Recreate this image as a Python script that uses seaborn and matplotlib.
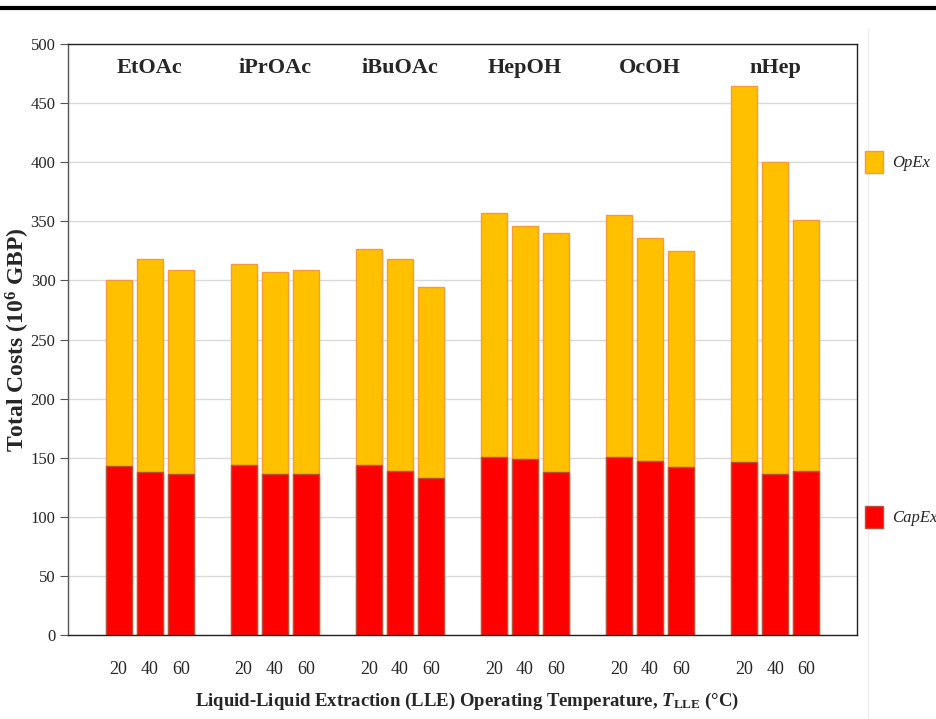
import pandas as pd
import matplotlib.pyplot as plt
from matplotlib.patches import Patch
from matplotlib.lines import Line2D
import seaborn as sns

# ── data ──────────────────────────────────────────────────
solvents = ["EtOAc", "iPrOAc", "iBuOAc", "HepOH", "OcOH", "nHep"]
temps = ["20", "40", "60"]
capex = [143, 138, 136.5,
         144, 136.5, 136,
         144, 139, 133,
         150.5, 149, 138,
         150.5, 147, 142,
         146, 136, 139]
total = [300, 318, 308.5,
         313.5, 307.5, 308.5,
         326.5, 318, 294,
         357, 346, 340,
         355, 336, 324.5,
         464.5, 400, 351]

OPEX = "#FFC000"
OPEX_EDGE = "#F59B3C"
CAPEX = "#FF0000"
CAPEX_EDGE = "#B8503A"
SERIF = "Liberation Serif"

sns.set_style("white")
plt.rcParams.update({
    "font.family": [SERIF, "DejaVu Serif"],
    "mathtext.fontset": "custom",
    "mathtext.rm": "Liberation Serif:bold",
    "mathtext.bf": "Liberation Serif:bold",
    "mathtext.it": "Liberation Serif:italic:bold",
})

df = pd.DataFrame({
    "solvent": [s for s in solvents for _ in temps],
    "temp": temps * len(solvents),
    "capex": capex,
    "total": total,
})

fig = plt.figure(figsize=(9.37, 7.19), dpi=100)
ax = fig.add_axes([68 / 937, 1 - 635 / 719, 789 / 937, 591 / 719])

# total bar (OpEx on top) then CapEx over it -> looks stacked
common = dict(data=df, x="solvent", hue="temp", order=solvents, hue_order=temps,
              width=0.75, gap=0.17, dodge=True, legend=False, errorbar=None,
              saturation=1, linewidth=1, ax=ax)
sns.barplot(y="total", palette=[OPEX] * 3, edgecolor=OPEX_EDGE, **common)
sns.barplot(y="capex", palette=[CAPEX] * 3, edgecolor=CAPEX_EDGE, **common)

# temperature ticks under each bar
centers = sorted(p.get_x() + p.get_width() / 2 for c in ax.containers[:3] for p in c)
ax.set_xticks(centers)
ax.set_xticklabels(temps * len(solvents), fontsize=13)
ax.tick_params(axis="x", length=0, pad=19)

# solvent names inside the top of the plot
for i, name in enumerate(solvents):
    ax.text(i, 480, name, ha="center", va="center", fontsize=16, fontweight="bold")

ax.set_xlim(-0.655, 5.655)
ax.set_ylim(0, 500)
ax.set_yticks(range(0, 501, 50))
ax.tick_params(axis="y", labelsize=12, length=6, width=0.8, color="#555555",
               direction="out", left=True, pad=3)
ax.yaxis.grid(True, color="#d9d9d9", lw=1)
ax.set_axisbelow(True)
for sp in ax.spines.values():
    sp.set_visible(True)
    sp.set_color("#222222")
    sp.set_linewidth(1)
ax.spines["left"].set_color("#555555")

ax.set_ylabel(r"Total Costs ($\mathrm{10^{6}}$ GBP)", fontsize=17, fontweight="bold")
ax.yaxis.set_label_coords(-0.045, 0.5)
ax.set_xlabel(r"Liquid-Liquid Extraction (LLE) Operating Temperature, $\mathit{T}_{\mathrm{LLE}}$ (°C)",
              fontsize=13.5, fontweight="bold")
ax.xaxis.set_label_coords(0.5057, -0.095)

# legend on the right
prop = {"family": SERIF, "style": "italic", "size": 12}
for lab, col, edge, ypix in [("OpEx", OPEX, OPEX_EDGE, 162), ("CapEx", CAPEX, CAPEX_EDGE, 517)]:
    fig.legend(handles=[Patch(facecolor=col, edgecolor=edge, lw=1)], labels=[lab],
               loc="center left", bbox_to_anchor=(865 / 937, 1 - ypix / 719),
               frameon=False, prop=prop, handlelength=1.1, handleheight=1.7,
               borderpad=0, borderaxespad=0, handletextpad=0.5)

# thick rule at the top and faint panel edge
fig.add_artist(Line2D([0, 1], [1 - 8 / 719] * 2, transform=fig.transFigure,
                      color="black", lw=3))
fig.add_artist(Line2D([868 / 937] * 2, [0, 1 - 28 / 719], transform=fig.transFigure,
                      color="#eeeeee", lw=1))

fig.savefig("out.png", dpi=100, facecolor="white")
